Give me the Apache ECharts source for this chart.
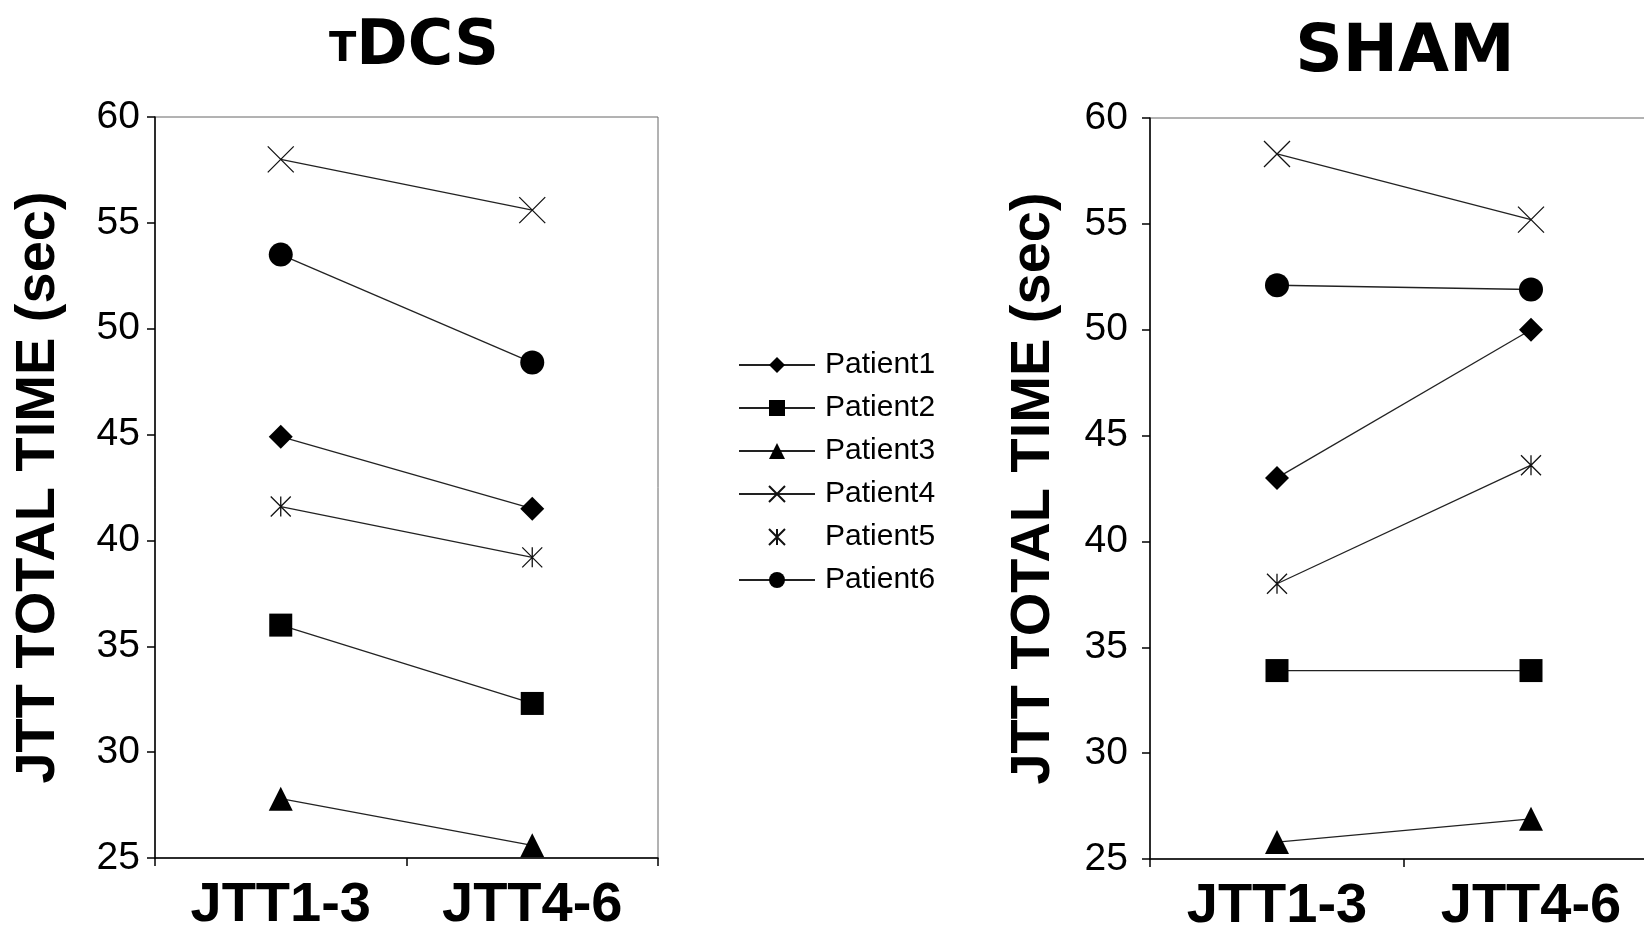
<!DOCTYPE html>
<html>
<head>
<meta charset="utf-8">
<script src="https://cdn.jsdelivr.net/npm/echarts@6/dist/echarts.min.js"></script>
<style>
html,body{margin:0;padding:0;background:#fff;}
#c{width:1644px;height:927px;}
</style>
</head>
<body>
<div id="c"></div>
<script>
const categories = ['JTT1-3', 'JTT4-6'];
const patients = ['Patient1', 'Patient2', 'Patient3', 'Patient4', 'Patient5', 'Patient6'];
// tDCS panel values
const tdcsP1 = [44.9, 41.5];
const tdcsP2 = [36.0, 32.3];
const tdcsP3 = [27.8, 25.6];
const tdcsP4 = [58.0, 55.6];
const tdcsP5 = [41.6, 39.2];
const tdcsP6 = [53.5, 48.4];
// SHAM panel values
const shamP1 = [43.0, 50.0];
const shamP2 = [33.9, 33.9];
const shamP3 = [25.8, 26.9];
const shamP4 = [58.3, 55.2];
const shamP5 = [38.0, 43.6];
const shamP6 = [52.1, 51.9];
const yTicks = { min: 25, max: 60, interval: 5 };
const yTitle = 'JTT TOTAL TIME (sec)';

const FONT = 'Liberation Sans, Arial, sans-serif';
const TFONT = 'DejaVu Sans, Liberation Sans, sans-serif';
const xPath = 'path://M0 0 L10 10 M10 0 L0 10';
const starPath = 'path://M0 0 L10 10 M10 0 L0 10 M5 0 L5 10';
const sym = {
  Patient1: { symbol: 'diamond', size: 24, filled: true },
  Patient2: { symbol: 'rect', size: 23, filled: true },
  Patient3: { symbol: 'triangle', size: 24, filled: true },
  Patient4: { symbol: xPath, size: 26, filled: false },
  Patient5: { symbol: starPath, size: 20, filled: false },
  Patient6: { symbol: 'circle', size: 24, filled: true }
};

const tdcs = [tdcsP1, tdcsP2, tdcsP3, tdcsP4, tdcsP5, tdcsP6];
const sham = [shamP1, shamP2, shamP3, shamP4, shamP5, shamP6];

function makeSeries(vals, idx) {
  return patients.map((name, i) => {
    const s = sym[name];
    return {
      name: name,
      type: 'line',
      xAxisIndex: idx,
      yAxisIndex: idx,
      data: vals[i],
      symbol: s.symbol,
      symbolSize: s.size,
      showAllSymbol: true,
      lineStyle: { color: '#222', width: 1.3 },
      itemStyle: s.filled ? { color: '#000' } : { color: 'none', borderColor: '#111', borderWidth: 1.3 },
      emphasis: { disabled: true },
      z: 3
    };
  });
}

function yAxis(idx) {
  return {
    gridIndex: idx,
    type: 'value',
    min: yTicks.min, max: yTicks.max, interval: yTicks.interval,
    name: yTitle,
    nameLocation: 'middle',
    nameRotate: 90,
    nameGap: 88,
    nameTextStyle: { fontFamily: FONT, fontWeight: 'bold', fontSize: 56, color: '#000' },
    axisLine: { show: true, lineStyle: { color: '#000', width: 1.5 } },
    axisTick: { show: true, length: 8, lineStyle: { color: '#000', width: 1.5 } },
    axisLabel: { fontFamily: FONT, fontSize: 39, color: '#000', margin: idx === 0 ? 15 : 22 },
    splitLine: { show: false }
  };
}
function xAxis(idx) {
  return {
    gridIndex: idx,
    type: 'category',
    data: categories,
    boundaryGap: true,
    axisLine: { show: true, lineStyle: { color: '#000', width: 1.5 } },
    axisTick: { show: true, length: 8, lineStyle: { color: '#000', width: 1.5 } },
    axisLabel: { fontFamily: FONT, fontWeight: 'bold', fontSize: 56, color: '#000', margin: 20 },
    splitLine: { show: false }
  };
}

const chart = echarts.init(document.getElementById('c'), null, { renderer: 'canvas' });
chart.setOption({
  backgroundColor: '#fff',
  animation: false,
  title: [
    {
      text: '{s|T}{b|DCS}',
      left: 409, top: 12, textAlign: 'center',
      textStyle: {
        rich: {
          s: { fontFamily: TFONT, fontWeight: 'bold', fontSize: 40, color: '#000', verticalAlign: 'bottom', padding: [0, 0, 8, 0] },
          b: { fontFamily: TFONT, fontWeight: 'bold', fontSize: 62, color: '#000', verticalAlign: 'bottom' }
        }
      }
    },
    {
      text: 'SHAM',
      left: 1400, top: 16, textAlign: 'center',
      textStyle: { fontFamily: TFONT, fontWeight: 'bold', fontSize: 66, color: '#000' }
    }
  ],
  legend: {
    orient: 'vertical',
    left: 733, top: 345,
    itemWidth: 76, itemHeight: 20, itemGap: 13,
    selectedMode: false,
    textStyle: { fontFamily: FONT, fontSize: 30, color: '#000', lineHeight: 30, padding: [0, 0, 0, 5] },
    data: patients.map(n => n === 'Patient5' ? { name: n, lineStyle: { opacity: 0 } } : { name: n })
  },
  grid: [
    { left: 155, top: 117, width: 503, height: 741, outerBoundsMode: 'none', containLabel: false, show: true, borderColor: '#666', borderWidth: 1, backgroundColor: 'transparent' },
    { left: 1150, top: 118, width: 508, height: 741, outerBoundsMode: 'none', containLabel: false, show: true, borderColor: '#666', borderWidth: 1, backgroundColor: 'transparent' }
  ],
  xAxis: [xAxis(0), xAxis(1)],
  yAxis: [yAxis(0), yAxis(1)],
  series: makeSeries(tdcs, 0).concat(makeSeries(sham, 1))
});
</script>
</body>
</html>
